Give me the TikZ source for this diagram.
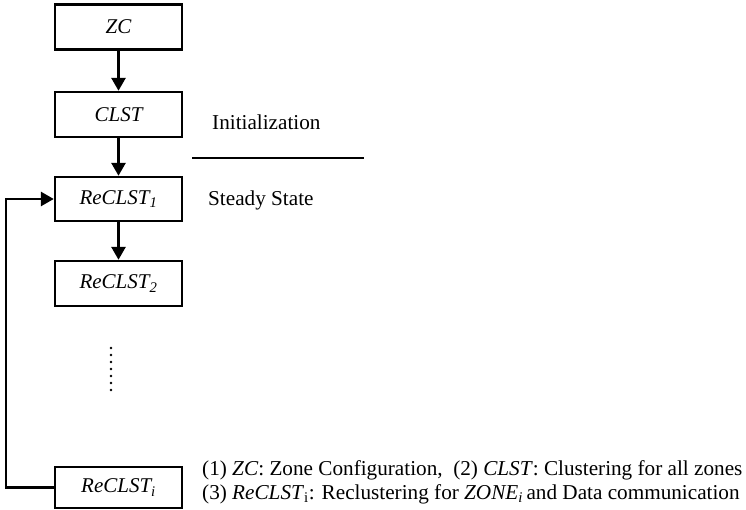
\documentclass[tikz,border=0pt]{standalone}
\usepackage{fontspec}
\setmainfont{Liberation Serif}
\usetikzlibrary{arrows.meta}
\begin{document}
\begin{tikzpicture}[x=1pt,y=-1pt,
  stage/.style={draw, line width=2.4pt, minimum width=127pt, inner sep=0pt, font=\fontsize{21}{24}\selectfont\itshape},
  flow/.style={line width=2.8pt, -{Triangle[length=13pt,width=14pt]}},
  lbl/.style={font=\fontsize{21.2}{24}\selectfont, inner sep=0pt, anchor=west}]
\useasboundingbox (0,0) rectangle (746,510);
\node[stage, minimum height=45pt] (zc) at (118.5,27) {ZC};
\node[stage, minimum height=45pt] (clst) at (118.5,114.5) {CLST};
\node[stage, minimum height=44pt] (r1) at (118.5,199) {ReCLST$_{\mathit 1}$};
\node[stage, minimum height=45pt] (r2) at (118.5,283.5) {ReCLST$_{\mathit 2}$};
\node[stage, minimum height=41pt] (ri) at (118.5,487.5) {ReCLST$_{\mathit i}$};
\draw[flow] (zc) -- (clst);
\draw[flow] (clst) -- (r1);
\draw[flow] (r1) -- (r2);
\coordinate (lb) at (6,487.5);
\coordinate (lt) at (6,199);
\draw[flow] (ri.west) -- (lb) -- (lt) -- (r1.west);
\node[inner sep=0pt] (dots) at (111,369) {\tikz[x=1pt,y=-1pt]\foreach \k in {0,...,6} \fill (0,\k*7) circle (1.3pt);};
\node[lbl] (init) at (212,122) {Initialization};
\node[lbl] (steady) at (208,200) {Steady State};
\coordinate (sa) at (192,158);
\coordinate (sb) at (364,158);
\draw[line width=2pt] (sa) -- (sb);
\node[lbl] (leg1) at (202,470) {(1) \textit{ZC}: Zone Configuration,\ \ (2) \textit{CLST}: Clustering for all zones};
\node[lbl] (leg2) at (202,494) {(3) \textit{ReCLST}$_{\mathrm i}$: Reclustering for \textit{ZONE$_{\mathit i}$}\,and Data communication};
\end{tikzpicture}
\end{document}
